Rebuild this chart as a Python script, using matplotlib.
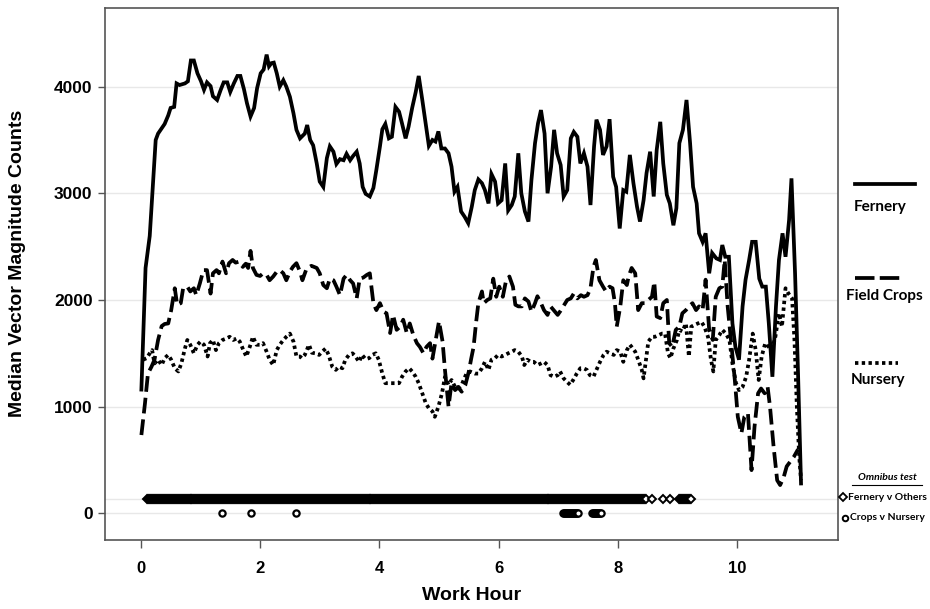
import numpy as np
import matplotlib
matplotlib.use("Agg")
import matplotlib.pyplot as plt
from matplotlib.lines import Line2D

# Median vector magnitude counts per work hour (5-min medians)
fern_hr = [0.01, 0.08, 0.15, 0.25, 0.29, 0.35, 0.40, 0.46, 0.50, 0.56, 0.60, 0.65, 0.74, 0.79,
           0.84, 0.89, 0.95, 1.01, 1.06, 1.11, 1.17, 1.21, 1.28, 1.34, 1.39, 1.45, 1.50, 1.56,
           1.62, 1.67, 1.73, 1.78, 1.84, 1.90, 1.95, 2.01, 2.06, 2.11, 2.15, 2.19, 2.23, 2.28,
           2.33, 2.39, 2.44, 2.50, 2.56, 2.61, 2.67, 2.75, 2.79, 2.84, 2.89, 2.95, 3.00, 3.06,
           3.12, 3.17, 3.23, 3.28, 3.34, 3.40, 3.45, 3.51, 3.56, 3.62, 3.67, 3.72, 3.77, 3.84,
           3.90, 3.95, 4.01, 4.05, 4.10, 4.16, 4.21, 4.27, 4.33, 4.38, 4.44, 4.49, 4.55, 4.61,
           4.66, 4.72, 4.78, 4.83, 4.89, 4.94, 4.99, 5.04, 5.10, 5.16, 5.21, 5.26, 5.31, 5.37,
           5.43, 5.49, 5.55, 5.60, 5.66, 5.72, 5.77, 5.83, 5.88, 5.94, 5.99, 6.05, 6.11, 6.16,
           6.22, 6.27, 6.33, 6.38, 6.44, 6.50, 6.55, 6.61, 6.66, 6.71, 6.77, 6.82, 6.88, 6.93,
           6.98, 7.04, 7.09, 7.15, 7.21, 7.26, 7.32, 7.37, 7.43, 7.49, 7.54, 7.60, 7.64, 7.70,
           7.75, 7.81, 7.86, 7.92, 7.97, 8.03, 8.09, 8.14, 8.20, 8.26, 8.32, 8.37, 8.43, 8.48,
           8.54, 8.60, 8.65, 8.71, 8.76, 8.82, 8.87, 8.93, 8.98, 9.03, 9.09, 9.15, 9.21, 9.26,
           9.32, 9.36, 9.42, 9.47, 9.53, 9.58, 9.65, 9.71, 9.75, 9.80, 9.86, 9.92, 9.97, 10.03,
           10.09, 10.14, 10.20, 10.25, 10.31, 10.37, 10.42, 10.48, 10.53, 10.59, 10.65, 10.70,
           10.76, 10.81, 10.87, 10.91, 10.97, 11.02, 11.07]
fern_vm = [1160, 2300, 2600, 3500, 3560, 3610, 3650, 3730, 3800, 3810, 4030, 4015, 4030, 4050,
           4245, 4245, 4125, 4050, 3970, 4040, 4005, 3910, 3875, 3970, 4040, 4040, 3950, 4030,
           4100, 4100, 3975, 3845, 3720, 3800, 3985, 4125, 4160, 4300, 4190, 4220, 4225, 4125,
           4000, 4060, 4000, 3905, 3750, 3595, 3515, 3560, 3640, 3500, 3450, 3280, 3110, 3060,
           3330, 3440, 3390, 3275, 3320, 3310, 3370, 3310, 3350, 3390, 3280, 3060, 2995, 2970,
           3050, 3220, 3440, 3600, 3650, 3515, 3530, 3810, 3765, 3655, 3515, 3625, 3800, 3950,
           4100, 3875, 3640, 3445, 3500, 3485, 3580, 3420, 3420, 3375, 3250, 3015, 3060, 2830,
           2780, 2720, 2875, 3030, 3130, 3095, 3030, 2905, 3180, 3110, 2905, 2935, 3280, 2840,
           2890, 2970, 3375, 3000, 2830, 2735, 3125, 3470, 3655, 3780, 3560, 3000, 3250, 3595,
           3375, 3265, 2970, 3030, 3515, 3575, 3530, 3280, 3375, 3250, 2890, 3440, 3690, 3595,
           3360, 3440, 3695, 3155, 3060, 2670, 3030, 3015, 3360, 3095, 2875, 2735, 2935, 3190,
           3390, 2970, 3405, 3670, 3280, 2985, 2905, 2700, 2860, 3470, 3595, 3875, 3470, 3060,
           2905, 2625, 2545, 2625, 2250, 2440, 2390, 2375, 2515, 2405, 2405, 1780, 1560, 1440,
           1940, 2190, 2375, 2545, 2545, 2200, 2125, 2125, 1780, 1280, 1940, 2375,
           2625, 2405, 2750, 3140, 2250, 1310, 280]

crop_hr = [0.01, 0.07, 0.12, 0.18, 0.23, 0.29, 0.35, 0.40, 0.46, 0.51, 0.57, 0.61, 0.67, 0.71,
           0.78, 0.83, 0.89, 0.93, 0.99, 1.05, 1.11, 1.17, 1.21, 1.27, 1.31, 1.37, 1.43, 1.48,
           1.54, 1.59, 1.65, 1.71, 1.76, 1.80, 1.84, 1.88, 1.94, 2.00, 2.05, 2.11, 2.16, 2.22,
           2.28, 2.33, 2.39, 2.44, 2.50, 2.55, 2.61, 2.67, 2.71, 2.78, 2.86, 2.95, 3.00, 3.06,
           3.12, 3.17, 3.23, 3.28, 3.34, 3.40, 3.45, 3.51, 3.56, 3.62, 3.67, 3.73, 3.79, 3.84,
           3.90, 3.95, 4.01, 4.07, 4.12, 4.18, 4.23, 4.29, 4.35, 4.40, 4.46, 4.51, 4.57, 4.63,
           4.68, 4.74, 4.79, 4.85, 4.89, 4.94, 5.00, 5.06, 5.10, 5.16, 5.21, 5.27, 5.32, 5.38,
           5.44, 5.50, 5.54, 5.58, 5.62, 5.66, 5.72, 5.75, 5.81, 5.86, 5.91, 5.96, 6.01, 6.07,
           6.12, 6.18, 6.24, 6.28, 6.33, 6.39, 6.44, 6.50, 6.55, 6.61, 6.65, 6.71, 6.76, 6.82,
           6.87, 6.93, 6.99, 7.04, 7.10, 7.15, 7.21, 7.26, 7.32, 7.38, 7.43, 7.49, 7.54, 7.59,
           7.63, 7.69, 7.75, 7.80, 7.86, 7.91, 7.95, 7.98, 8.04, 8.09, 8.15, 8.18, 8.23, 8.29,
           8.34, 8.40, 8.46, 8.51, 8.57, 8.61, 8.65, 8.71, 8.76, 8.82, 8.86, 8.91, 8.97, 9.03,
           9.08, 9.14, 9.19, 9.25, 9.31, 9.36, 9.42, 9.47, 9.53, 9.59, 9.64, 9.70, 9.75, 9.79,
           9.84, 9.90, 9.96, 10.01, 10.07, 10.12, 10.18, 10.24, 10.29, 10.35, 10.40, 10.46,
           10.51, 10.55, 10.61, 10.67, 10.72, 10.78, 10.83, 10.89, 10.95, 11.02]
crop_vm = [734, 1030, 1310, 1375, 1440, 1625, 1755, 1775, 1780, 1905, 2110, 1955, 1970, 2110,
           2125, 2080, 2110, 2045, 2155, 2280, 2280, 2060, 2250, 2280, 2250, 2360, 2250, 2345,
           2375, 2350, 2360, 2310, 2340, 2300, 2460, 2300, 2235, 2225, 2250, 2235, 2185, 2220,
           2265, 2280, 2250, 2185, 2265, 2310, 2345, 2265, 2185, 2295, 2320, 2300, 2250, 2140,
           2110, 2200, 2185, 2125, 2045, 2200, 2235, 2185, 2155, 2015, 2200, 2210, 2235, 2250,
           1970, 1905, 1970, 1890, 1875, 1690, 1860, 1720, 1750, 1815, 1690, 1780, 1670, 1595,
           1560, 1500, 1560, 1595, 1450, 1610, 1800, 1610, 1345, 1000, 1220, 1155, 1185, 1140,
           1200, 1330, 1450, 1560, 1780, 1970, 2080, 1970, 2000, 2015, 2200, 2030, 2125, 2030,
           2170, 2220, 2125, 1955, 1940, 1940, 2015, 1985, 1890, 1970, 2035, 1970, 1905, 1860,
           1940, 1900, 1860, 1900, 1955, 2000, 2015, 2060, 2015, 2045, 2030, 2045, 2110, 2310,
           2375, 2185, 2125, 2080, 2125, 2110, 1970, 1750, 1940, 2185, 2140, 2220, 2300, 2250,
           1905, 1970, 1970, 2000, 2030, 2170, 1845, 1830, 1970, 2000, 1595, 1560, 1720, 1750,
           1875, 1905, 1940, 1970, 1905, 1940, 1905, 2190, 1720, 1625, 2030, 2110, 2125, 2375,
           1940, 1595, 1250, 905, 750, 905, 940, 405, 810, 1125, 1170, 1125,
           1185, 1000, 625, 310, 265, 340, 440, 485, 530, 600]

nurs_hr = [0.04, 0.10, 0.15, 0.19, 0.23, 0.29, 0.35, 0.40, 0.46, 0.51, 0.57, 0.63, 0.68, 0.74,
           0.78, 0.83, 0.89, 0.95, 1.00, 1.06, 1.12, 1.16, 1.21, 1.26, 1.31, 1.37, 1.44, 1.49,
           1.55, 1.61, 1.66, 1.72, 1.77, 1.83, 1.88, 1.94, 2.00, 2.05, 2.11, 2.16, 2.22, 2.28,
           2.33, 2.39, 2.44, 2.50, 2.56, 2.61, 2.67, 2.70, 2.75, 2.82, 2.87, 2.93, 2.99, 3.04,
           3.10, 3.15, 3.21, 3.27, 3.32, 3.38, 3.43, 3.49, 3.55, 3.60, 3.66, 3.71, 3.77, 3.83,
           3.88, 3.94, 3.99, 4.05, 4.10, 4.16, 4.22, 4.27, 4.33, 4.38, 4.44, 4.50, 4.55, 4.61,
           4.66, 4.72, 4.78, 4.83, 4.89, 4.93, 4.99, 5.05, 5.10, 5.16, 5.21, 5.27, 5.32, 5.38,
           5.46, 5.52, 5.60, 5.66, 5.72, 5.77, 5.83, 5.88, 5.94, 5.99, 6.05, 6.11, 6.16, 6.22,
           6.27, 6.33, 6.39, 6.43, 6.48, 6.54, 6.59, 6.65, 6.71, 6.76, 6.82, 6.87, 6.93, 6.99,
           7.03, 7.09, 7.14, 7.20, 7.25, 7.31, 7.37, 7.42, 7.48, 7.53, 7.59, 7.64, 7.70, 7.76,
           7.81, 7.87, 7.93, 7.98, 8.04, 8.09, 8.15, 8.20, 8.23, 8.29, 8.34, 8.40, 8.43, 8.47,
           8.51, 8.57, 8.62, 8.68, 8.74, 8.79, 8.84, 8.88, 8.93, 8.99, 9.03, 9.08, 9.14, 9.19,
           9.23, 9.28, 9.34, 9.40, 9.45, 9.51, 9.56, 9.60, 9.64, 9.70, 9.75, 9.81, 9.87, 9.92,
           9.98, 10.03, 10.09, 10.15, 10.20, 10.26, 10.31, 10.36, 10.41, 10.47, 10.53, 10.58,
           10.64, 10.70, 10.75, 10.81, 10.86, 10.92, 10.96, 11.00, 11.04, 11.07]
nurs_vm = [1440, 1455, 1500, 1530, 1405, 1440, 1390, 1455, 1485, 1440, 1360, 1330, 1405, 1545,
           1625, 1580, 1500, 1580, 1610, 1580, 1470, 1595, 1625, 1530, 1595, 1625, 1640, 1655,
           1625, 1640, 1610, 1530, 1470, 1565, 1655, 1580, 1580, 1595, 1515, 1440, 1390, 1530,
           1580, 1625, 1655, 1685, 1610, 1470, 1470, 1455, 1485, 1580, 1505, 1500, 1485, 1515,
           1545, 1485, 1375, 1345, 1375, 1360, 1440, 1485, 1500, 1470, 1420, 1485, 1445, 1455,
           1485, 1500, 1440, 1310, 1220, 1220, 1220, 1220, 1220, 1280, 1330, 1360, 1330, 1280,
           1220, 1125, 1030, 985, 955, 905, 1000, 1125, 1280, 1205, 1250, 1185, 1170, 1205,
           1310, 1330, 1310, 1310, 1360, 1420, 1345, 1440, 1455, 1485, 1470, 1485, 1500, 1515,
           1530, 1515, 1470, 1390, 1440, 1420, 1420, 1390, 1405, 1420, 1390, 1295, 1280, 1295,
           1330, 1265, 1235, 1205, 1250, 1310, 1360, 1360, 1345, 1295, 1280, 1345, 1420, 1485,
           1515, 1500, 1485, 1530, 1515, 1420, 1530, 1580, 1560, 1515, 1440, 1345, 1265, 1440,
           1610, 1655, 1655, 1670, 1685, 1685, 1500, 1455, 1545, 1625, 1720, 1705, 1780, 1470,
           1750, 1765, 1780, 1795, 1750, 1655, 1440, 1330, 1625, 1670, 1720, 1685, 1625, 1405,
           1220, 1155, 1185, 1280, 1440, 1685, 1530, 1250, 1470, 1595, 1560, 1530,
           1655, 1875, 1750, 2110, 2060, 2015, 1625, 1000, 530, 310]

# Omnibus test: runs of significant minutes (start hour, end hour)
fern_sig_runs = [(0.10, 8.47), (8.57, 8.57), (8.75, 8.75), (8.88, 8.88), (9.02, 9.22)]
crops_sig_runs = [(1.37, 1.37), (1.85, 1.85), (2.61, 2.61), (7.08, 7.33), (7.56, 7.72)]
fern_sig_y = 130
crops_sig_y = 0

xticks = [0, 2, 4, 6, 8, 10]
yticks = [0, 1000, 2000, 3000, 4000]


def minutes(runs):
    pts = []
    for a, b in runs:
        n = int(round((b - a) * 60)) + 1
        pts.extend(np.linspace(a, b, n))
    return np.array(pts)


arial = ['Liberation Sans', 'DejaVu Sans']
calib = ['Lato', 'DejaVu Sans']

fig = plt.figure(figsize=(9.3, 6.09), dpi=100)
ax = fig.add_axes([105 / 930, 69 / 609, 733 / 930, 532 / 609])

for y in yticks + [fern_sig_y]:
    ax.axhline(y, color='#e8e8e8', lw=1.0, zorder=0)

lw = 2.7
ax.plot(fern_hr, fern_vm, color='black', lw=lw, solid_joinstyle='miter', zorder=3)
ax.plot(crop_hr, crop_vm, color='black', lw=lw, linestyle=(0, (4.2, 1.6)),
        dash_capstyle='butt', zorder=3)
ax.plot(nurs_hr, nurs_vm, color='black', lw=lw, linestyle=(0, (0.9, 0.9)),
        dash_capstyle='butt', zorder=3)

fx = minutes(fern_sig_runs)
cx = minutes(crops_sig_runs)
ax.plot(fx, np.full(len(fx), fern_sig_y), linestyle='none', marker='D', ms=4.5,
        mfc='white', mec='black', mew=1.4, zorder=4)
ax.plot(cx, np.full(len(cx), crops_sig_y), linestyle='none', marker='o', ms=4.5,
        mfc='white', mec='black', mew=1.6, zorder=4)

ax.set_xlim(-0.6, 11.69)
ax.set_ylim(-250, 4737)
ax.set_xticks(xticks)
ax.set_yticks(yticks)
ax.set_xticklabels([str(t) for t in xticks], fontfamily=arial, fontweight='bold', fontsize=12)
ax.set_yticklabels([str(t) for t in yticks], fontfamily=arial, fontweight='bold', fontsize=12.5)
ax.tick_params(axis='x', length=6, width=1, color='#555555', pad=9)
ax.tick_params(axis='y', length=5, width=1, color='#555555', pad=4)
for s in ax.spines.values():
    s.set_color('#555555')
    s.set_linewidth(1.2)

ax.set_xlabel('Work Hour', fontfamily=arial, fontweight='bold', fontsize=14)
ax.xaxis.set_label_coords(0.5, -0.088)
ax.set_ylabel('Median Vector Magnitude Counts', fontfamily=arial, fontweight='bold',
              fontsize=14)
ax.yaxis.set_label_coords(-0.108, 0.52)


# key drawn at the right side of the figure
def fx_(px):
    return px / 930


def fy_(py):
    return 1 - py / 609


fig.add_artist(Line2D([fx_(855), fx_(915)], [fy_(184), fy_(184)], color='black', lw=lw))
fig.text(fx_(880), fy_(207), 'Fernery', ha='center', va='center', fontsize=11,
         fontweight='bold', fontfamily=calib)
fig.add_artist(Line2D([fx_(855), fx_(901)], [fy_(278), fy_(278)], color='black', lw=lw,
                      linestyle=(0, (5.2, 1.4)), dash_capstyle='butt'))
fig.text(fx_(884), fy_(296), 'Field Crops', ha='center', va='center', fontsize=11,
         fontweight='bold', fontfamily=calib)
fig.add_artist(Line2D([fx_(855), fx_(898)], [fy_(363), fy_(363)], color='black', lw=lw,
                      linestyle=(0, (0.9, 0.9)), dash_capstyle='butt'))
fig.text(fx_(878), fy_(380), 'Nursery', ha='center', va='center', fontsize=11,
         fontweight='bold', fontfamily=calib)

fig.text(fx_(887), fy_(478), 'Omnibus test', ha='center', va='center', fontsize=7.5,
         fontweight='bold', fontstyle='italic', fontfamily=calib)
fig.add_artist(Line2D([fx_(852), fx_(922)], [fy_(485), fy_(485)], color='black', lw=0.8))
fig.add_artist(Line2D([fx_(843)], [fy_(497)], linestyle='none', marker='D', ms=4,
                      mfc='white', mec='black', mew=1.3))
fig.text(fx_(848), fy_(497), 'Fernery v Others', ha='left', va='center', fontsize=7.5,
         fontweight='bold', fontfamily=calib)
fig.add_artist(Line2D([fx_(845)], [fy_(518)], linestyle='none', marker='o', ms=4,
                      mfc='white', mec='black', mew=1.4))
fig.text(fx_(850), fy_(518), 'Crops v Nursery', ha='left', va='center', fontsize=7.5,
         fontweight='bold', fontfamily=calib)

fig.savefig('out.png', dpi=100)
